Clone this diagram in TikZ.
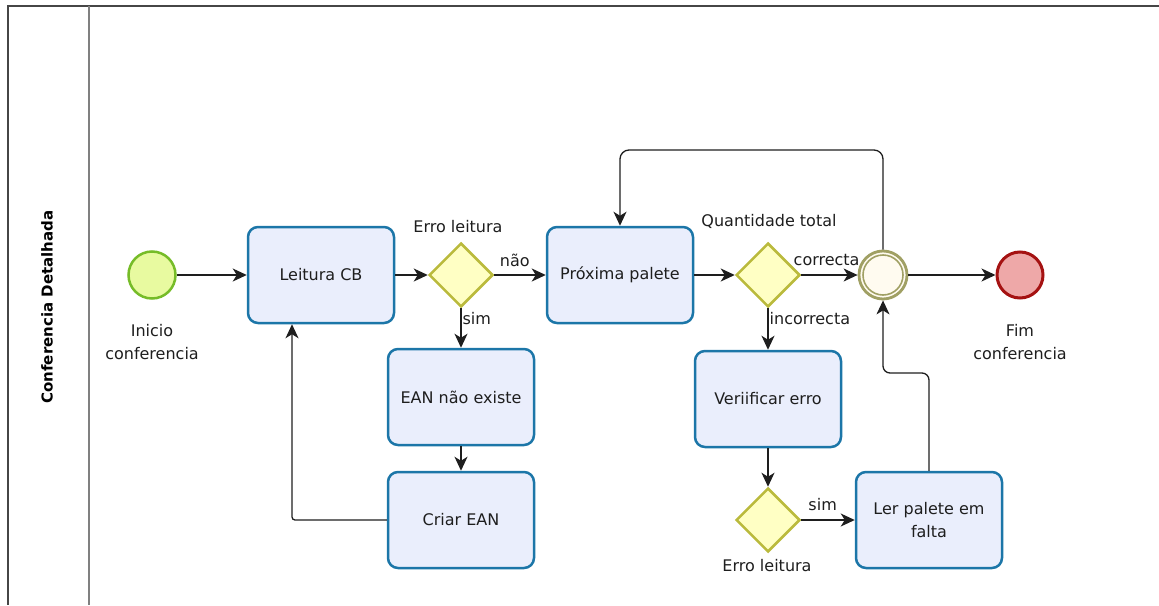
\documentclass[tikz,border=0pt]{standalone}
\usepackage{fontspec}
\setmainfont{DejaVu Sans}
\usetikzlibrary{shapes.geometric,arrows.meta,calc}

\definecolor{taskfill}{RGB}{234,238,252}
\definecolor{taskline}{RGB}{28,118,168}
\definecolor{gwfill}{RGB}{255,255,196}
\definecolor{gwline}{RGB}{186,186,60}
\definecolor{startfill}{RGB}{232,250,160}
\definecolor{startline}{RGB}{118,188,40}
\definecolor{midfill}{RGB}{255,251,240}
\definecolor{midline}{RGB}{160,160,100}
\definecolor{endfill}{RGB}{238,168,168}
\definecolor{endline}{RGB}{165,18,18}
\definecolor{ink}{RGB}{30,30,30}
\definecolor{poolline}{RGB}{70,70,70}

\begin{document}
\begin{tikzpicture}[x=1pt,y=-1pt,
  every node/.style={text=ink, font=\fontsize{16}{23}\selectfont},
  task/.style={rectangle, rounded corners=10pt, draw=taskline, fill=taskfill,
    line width=2.5pt, minimum width=146pt, minimum height=96pt, align=center, inner sep=2pt},
  gateway/.style={diamond, aspect=1, draw=gwline, fill=gwfill, line width=2.5pt,
    minimum width=64pt, minimum height=64pt, inner sep=0pt},
  startev/.style={circle, draw=startline, fill=startfill, line width=2.5pt,
    minimum size=47pt, inner sep=0pt},
  midev/.style={circle, draw=midline, fill=midfill, line width=2.8pt,
    minimum size=48pt, inner sep=0pt},
  midring/.style={circle, draw=midline, line width=1.6pt, minimum size=40pt, inner sep=0pt},
  endev/.style={circle, draw=endline, fill=endfill, line width=3pt,
    minimum size=46pt, inner sep=0pt},
  lbl/.style={inner sep=1pt, text height=12pt, text depth=3.5pt},
  evlbl/.style={align=center, inner sep=1pt},
  flow/.style={draw=ink, line width=1.3pt, -{Stealth[length=14pt,width=13pt,inset=4pt]}},
  lane/.style={draw=poolline, line width=2pt}
]
\useasboundingbox (0,0) rectangle (1159,605);

% pool and lane
\draw[lane] (1159,6) -- (8,6) -- (8,605);
\draw[lane, draw=gray] (89,6) -- (89,605);
\node[rotate=90, font=\fontsize{15}{18}\selectfont\bfseries, text=black] (lanename) at (47,307) {Conferencia Detalhada};

% events
\node[startev] (start) at (152,275) {};
\node[evlbl] (startlbl) at (152,342) {Inicio\\conferencia};
\node[midev] (mid) at (883,275) {};
\node[midring] (midinner) at (883,275) {};
\node[endev] (end) at (1020,275) {};
\node[evlbl] (endlbl) at (1020,342) {Fim\\conferencia};

% tasks
\node[task] (leitura) at (321,275) {Leitura CB};
\node[task] (proxima) at (620,275) {Próxima palete};
\node[task] (ean) at (461,397) {EAN não existe};
\node[task] (criar) at (461,520) {Criar EAN};
\node[task] (verif) at (768,399) {Veriificar erro};
\node[task] (ler) at (929,520) {Ler palete em\\falta};

% gateways
\node[gateway] (gw1) at (461,275) {};
\node[lbl] (gw1lbl) at (458,228) {Erro leitura};
\node[gateway] (gw2) at (768,275) {};
\node[lbl] (gw2lbl) at (769,222) {Quantidade total};
\node[gateway] (gw3) at (768,520) {};
\node[lbl] (gw3lbl) at (767,567) {Erro leitura};

% routing points
\coordinate (loopback) at (292,520);
\coordinate (toprow) at (750,150);
\coordinate (jog) at (905,373);

% sequence flows
\draw[flow] (start) -- (leitura);
\draw[flow] (leitura) -- (gw1);
\draw[flow] (gw1) -- node[lbl, above, pos=0.4, yshift=3pt] (naolbl) {não} (proxima);
\draw[flow] (gw1) -- node[lbl, right, pos=0.3] (simlbl) {sim} (ean);
\draw[flow] (ean) -- (criar);
\draw[flow, rounded corners=3pt] (criar.west) -- (loopback) -- (loopback |- leitura.south);
\draw[flow] (proxima) -- (gw2);
\draw[flow] (gw2) -- node[lbl, above, pos=0.45, yshift=4pt] (oklbl) {correcta} (mid);
\draw[flow] (gw2) -- node[lbl, right, pos=0.3] (noklbl) {incorrecta} (verif);
\draw[flow] (verif) -- (gw3);
\draw[flow] (gw3) -- node[lbl, above, pos=0.4, yshift=4pt] (sim2lbl) {sim} (ler);
\draw[flow, rounded corners=7pt] (ler.north) -- (ler.north |- jog) -- (mid.south |- jog) -- (mid.south);
\draw[flow, rounded corners=9pt] (mid.north) -- (mid.north |- toprow) -- (proxima.north |- toprow) -- (proxima.north);
\draw[flow] (mid) -- (end);
\end{tikzpicture}
\end{document}
